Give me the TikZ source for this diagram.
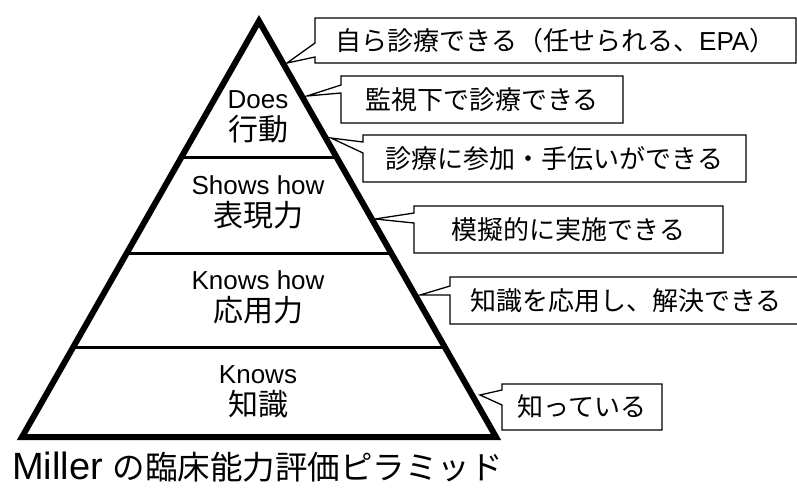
\documentclass[tikz,border=0pt]{standalone}
\usepackage{fontspec}
\setmainfont{Noto Sans CJK JP}
\newfontfamily\latinfont{Liberation Sans}
\newcommand\lvltext[2]{{\latinfont\fontsize{26pt}{32pt}\selectfont #1}\\{\fontsize{30pt}{32pt}\selectfont #2}}
\tikzset{
  pyr/.style={line width=6pt, line join=miter},
  divider/.style={line width=3pt},
  callbox/.style={draw=black, fill=white, line width=1.3pt, line join=miter},
  calltext/.style={inner sep=0pt, font=\fontsize{26pt}{30pt}\selectfont},
  lvl/.style={align=center, inner sep=0pt, font=\fontsize{26pt}{32pt}\selectfont},
}
% #1 name, #2 left, #3 top, #4 right, #5 bottom, #6 p1, #7 p2, #8 tipx, #9 tipy
\newcommand\mycallout[9]{%
  \coordinate (#1-tl) at (#2,#3);
  \coordinate (#1-tr) at (#4,#3);
  \coordinate (#1-br) at (#4,#5);
  \coordinate (#1-bl) at (#2,#5);
  \coordinate (#1-p1) at (#2,#6);
  \coordinate (#1-p2) at (#2,#7);
  \coordinate (#1-tip) at (#8,#9);
  \draw[callbox] (#1-tl) -- (#1-tr) -- (#1-br) -- (#1-bl) -- (#1-p2) -- (#1-tip) -- (#1-p1) -- cycle;
}
\begin{document}
\begin{tikzpicture}[x=1pt,y=-1pt]
\useasboundingbox (0,0) rectangle (797,488);
\clip (0,0) rectangle (797,488);
% pyramid
\coordinate (apex) at (259,21);
\coordinate (bl) at (22,437);
\coordinate (br) at (496,437);
\path (apex) -- (bl) coordinate[pos=0.3293] (l1) coordinate[pos=0.5577] (l2) coordinate[pos=0.7837] (l3);
\path (apex) -- (br) coordinate[pos=0.3293] (r1) coordinate[pos=0.5577] (r2) coordinate[pos=0.7837] (r3);
\draw[divider] (l1) -- (r1);
\draw[divider] (l2) -- (r2);
\draw[divider] (l3) -- (r3);
\draw[pyr] (apex) -- (br) -- (bl) -- cycle;
% level labels
\node[lvl] (does) at (258,117) {\lvltext{Does}{行動}};
\node[lvl] (shows) at (258,202) {\lvltext{Shows how}{表現力}};
\node[lvl] (knowshow) at (258,297) {\lvltext{Knows how}{応用力}};
\node[lvl] (knows) at (258,392) {\lvltext{Knows}{知識}};
% callouts
\mycallout{c1}{315}{18}{796}{63}{43}{57}{287}{63}
\node[calltext] (t1) at (555.5,40.5) {自ら診療できる（任せられる、{\latinfont EPA}）};
\mycallout{c2}{341}{76}{623}{123}{85}{93}{307}{96}
\node[calltext] (t2) at (482,99.5) {監視下で診療できる};
\mycallout{c3}{363}{135}{746}{182}{142}{153}{331}{138}
\node[calltext] (t3) at (554.5,158.5) {診療に参加・手伝いができる};
\mycallout{c4}{414}{206}{723}{253}{213}{223}{375}{219}
\node[calltext] (t4) at (568.5,229.5) {模擬的に実施できる};
\mycallout{c5}{450}{277}{810}{324}{286}{295}{420}{295}
\node[calltext] (t5) at (626,300.5) {知識を応用し、解決できる};
\mycallout{c6}{502}{384}{662}{430}{390}{405}{480}{395}
\node[calltext] (t6) at (582,407) {知っている};
% title
\node[anchor=west, inner sep=0pt] (title) at (12,467) {{\latinfont\fontsize{38pt}{40pt}\selectfont Miller}\hspace{10pt}{\fontsize{32.5pt}{36pt}\selectfont の臨床能力評価ピラミッド}};
\end{tikzpicture}
\end{document}
